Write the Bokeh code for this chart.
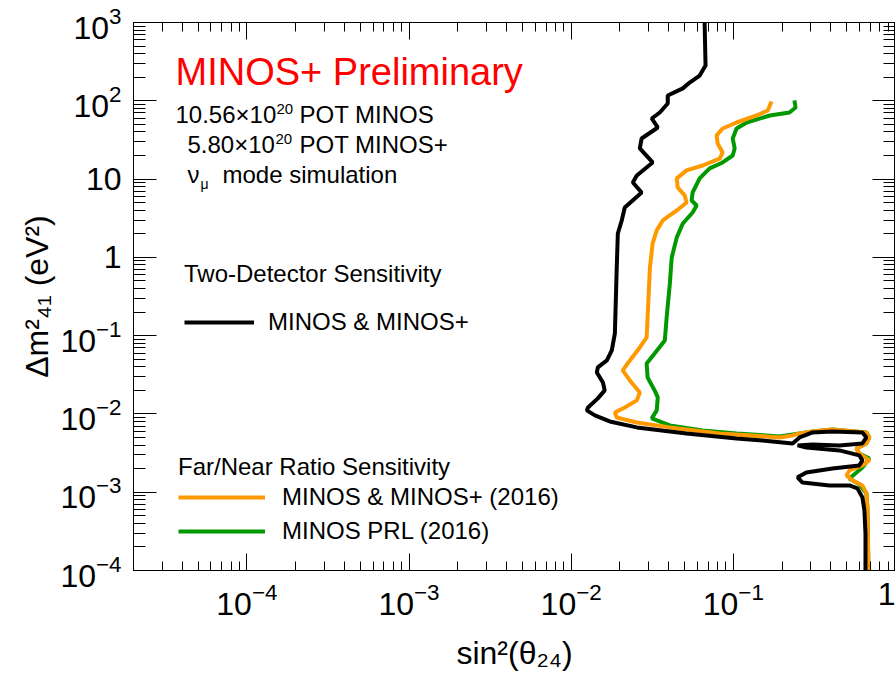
from bokeh.plotting import figure
from bokeh.models import (Range1d, FixedTicker, LogAxis, Label, Legend, LegendItem)
from bokeh.embed import file_html
from bokeh.resources import INLINE

# ---- data ----
x_ticks = [1e-4, 1e-3, 1e-2, 1e-1, 1.0]
y_ticks = [1e-4, 1e-3, 1e-2, 1e-1, 1.0, 10.0, 100.0, 1000.0]

black_x = [0.0665, 0.0674, 0.0620, 0.0538, 0.0488, 0.0394, 0.0394, 0.0352, 0.0314, 0.0342,
           0.0272, 0.0265, 0.0318, 0.0254, 0.0240, 0.0272, 0.0214, 0.0205, 0.0194, 0.0191,
           0.0186, 0.0178, 0.0166, 0.0146, 0.0144, 0.0157, 0.0161, 0.0146, 0.0127, 0.0125,
           0.0140, 0.0173, 0.0254, 0.0515, 0.1047, 0.151, 0.232, 0.256, 0.308, 0.408,
           0.625, 0.662, 0.625, 0.451, 0.308, 0.249, 0.282, 0.451, 0.598, 0.625,
           0.598, 0.408, 0.282, 0.249, 0.267, 0.392, 0.520, 0.582, 0.625, 0.643,
           0.653, 0.653]
black_y = [1000, 282, 210, 171, 144, 117, 92.4, 70.9, 59.4, 45.6,
           33.0, 24.6, 16.3, 11.1, 9.05, 6.74, 4.34, 2.96, 2.02, 0.743,
           0.107, 0.0647, 0.0482, 0.0393, 0.0339, 0.0252, 0.0200, 0.0158, 0.0121, 0.0111,
           0.00957, 0.00802, 0.00673, 0.00564, 0.00487, 0.00459, 0.00420, 0.00501, 0.00581, 0.00597,
           0.00581, 0.00501, 0.00420, 0.00396, 0.00407, 0.00396, 0.00373, 0.00342, 0.00295, 0.00255,
           0.00220, 0.00201, 0.00179, 0.00155, 0.00133, 0.00122, 0.00122, 0.00112, 0.000859, 0.00059,
           0.000298, 0.0001]

orange_x = [0.172, 0.163, 0.139, 0.1047, 0.0859, 0.0789, 0.0800, 0.0859, 0.0824, 0.0647,
            0.0515, 0.0448, 0.0454, 0.0501, 0.0515, 0.0448, 0.0367, 0.0337, 0.0318, 0.0306,
            0.0296, 0.0292, 0.0265, 0.0230, 0.0208, 0.0230, 0.0265, 0.0254, 0.0214, 0.0186,
            0.0191, 0.0254, 0.0406, 0.0824, 0.193, 0.232, 0.256, 0.308, 0.408, 0.662,
            0.690, 0.662, 0.574, 0.598, 0.662, 0.690, 0.625, 0.520, 0.499, 0.542,
            0.625, 0.662, 0.671, 0.681, 0.681]
orange_y = [98.0, 75.2, 64.9, 52.8, 44.3, 36.1, 28.5, 21.9, 18.3, 14.9,
            12.9, 10.2, 7.81, 6.18, 5.03, 3.97, 2.96, 2.21, 1.51, 0.743,
            0.171, 0.0948, 0.0707, 0.0482, 0.0360, 0.0268, 0.0188, 0.0149, 0.0121, 0.0104,
            0.00902, 0.00778, 0.00673, 0.00564, 0.00501, 0.00531, 0.00564, 0.00597, 0.00634, 0.00581,
            0.00501, 0.00420, 0.00362, 0.00313, 0.00270, 0.00255, 0.00220, 0.00190, 0.00164, 0.00142,
            0.00122, 0.000966, 0.000640, 0.000110, 0.0001]

green_x = [0.238, 0.242, 0.222, 0.168, 0.121, 0.1047, 0.0991, 0.1019, 0.0991, 0.0859,
           0.0714, 0.0620, 0.0561, 0.0553, 0.0594, 0.0561, 0.0488, 0.0448, 0.0417, 0.0406,
           0.0388, 0.0378, 0.0327, 0.0292, 0.0296, 0.0327, 0.0342, 0.0337, 0.0314, 0.0406,
           0.0647, 0.1047, 0.193, 0.256, 0.308, 0.408, 0.662, 0.690, 0.662, 0.574,
           0.598, 0.690, 0.625, 0.520, 0.598, 0.662, 0.671, 0.681]
green_y = [101, 82.1, 70.9, 64.9, 52.8, 44.3, 33.0, 24.6, 20.0, 16.3,
           13.7, 10.2, 6.74, 5.33, 4.60, 3.74, 2.71, 1.80, 0.998, 0.464,
           0.171, 0.0868, 0.0593, 0.0442, 0.0292, 0.0200, 0.0163, 0.0111, 0.00877, 0.00713,
           0.00615, 0.00564, 0.00516, 0.00564, 0.00597, 0.00634, 0.00581, 0.00501, 0.00420, 0.00362,
           0.00313, 0.00270, 0.00207, 0.00150, 0.00126, 0.000966, 0.000640, 0.0001]

FONT = "Liberation Sans"
BLACK = "#000000"
ORANGE = "#ff9900"
GREEN = "#009900"

def minor_list(decades, lo, hi):
    out = []
    for d in decades:
        for k in range(2, 10):
            v = k * d
            if lo <= v <= hi:
                out.append(v)
    return out

x_minor = minor_list([1e-5, 1e-4, 1e-3, 1e-2, 1e-1], 2e-5, 1.0)
y_minor = minor_list([1e-4, 1e-3, 1e-2, 1e-1, 1.0, 10.0, 100.0], 1e-4, 1e3)

p = figure(width=895, height=678, x_axis_type="log", y_axis_type="log",
           x_range=Range1d(2e-5, 1.0), y_range=Range1d(1e-4, 1e3),
           output_backend="svg", toolbar_location=None,
           min_border_left=133, min_border_right=0, min_border_top=22, min_border_bottom=108)
p.background_fill_color = "white"
p.border_fill_color = "white"
p.outline_line_color = "black"
p.outline_line_width = 1
p.xgrid.visible = False
p.ygrid.visible = False

def style_axis(ax, ticks, minor, tin, tmin, labels=True):
    ax.ticker = FixedTicker(ticks=ticks, minor_ticks=minor)
    ax.axis_line_color = "black"
    ax.axis_line_width = 1
    ax.major_tick_in = tin
    ax.major_tick_out = 0
    ax.minor_tick_in = tmin
    ax.minor_tick_out = 0
    ax.major_tick_line_color = "black"
    ax.minor_tick_line_color = "black"
    ax.major_tick_line_width = 1
    ax.minor_tick_line_width = 1
    if labels:
        ax.major_label_text_font = FONT
        ax.major_label_text_font_size = "32px"
        ax.major_label_text_color = "black"
        ax.major_label_standoff = 12
    else:
        ax.major_label_text_font_size = "1px"
        ax.major_label_text_alpha = 0
        ax.major_label_standoff = 0

xa = p.xaxis[0]
ya = p.yaxis[0]
style_axis(xa, x_ticks, x_minor, 17, 9)
style_axis(ya, y_ticks, y_minor, 23, 12)
xa.major_label_overrides = {1.0: "1"}
ya.major_label_overrides = {1.0: "1", 10.0: "10"}

xa.axis_label = "sin²(θ₂₄)"
xa.axis_label_text_font = FONT
xa.axis_label_text_font_size = "32px"
xa.axis_label_text_font_style = "normal"
xa.axis_label_text_color = "black"
xa.axis_label_standoff = 17
ya.axis_label = "Δm²₄₁ (eV²)"
ya.axis_label_text_font = FONT
ya.axis_label_text_font_size = "32px"
ya.axis_label_text_font_style = "normal"
ya.axis_label_text_color = "black"
ya.axis_label_standoff = 2

top = LogAxis()
style_axis(top, x_ticks, x_minor, 17, 9, labels=False)
p.add_layout(top, "above")
right = LogAxis()
style_axis(right, y_ticks, y_minor, 23, 12, labels=False)
p.add_layout(right, "right")

# ---- curves ----
r_green = p.line(green_x, green_y, line_color=GREEN, line_width=4)
r_orange = p.line(orange_x, orange_y, line_color=ORANGE, line_width=4)
r_black = p.line(black_x, black_y, line_color=BLACK, line_width=4)

# ---- legends ----
def make_legend(title, items, loc, gw, standoff, lstand):
    lg = Legend(items=items, location=loc, title=title,
                title_text_font=FONT, title_text_font_size="24px",
                title_text_font_style="normal", title_text_color="black",
                title_standoff=standoff,
                label_text_font=FONT, label_text_font_size="24px",
                label_text_color="black",
                glyph_width=gw, glyph_height=28, label_height=28,
                label_standoff=lstand, spacing=6, padding=0, margin=0,
                border_line_alpha=0, background_fill_alpha=0)
    return lg

lg1 = make_legend("Two-Detector Sensitivity",
                  [LegendItem(label="MINOS & MINOS+", renderers=[r_black])],
                  (51, 234), 70, 20, 14)
lg2 = make_legend("Far/Near Ratio Sensitivity",
                  [LegendItem(label="MINOS & MINOS+ (2016)", renderers=[r_orange]),
                   LegendItem(label="MINOS PRL (2016)", renderers=[r_green])],
                  (45, 25), 87, 2, 17)
p.add_layout(lg1, "center")
p.add_layout(lg2, "center")

# ---- text annotations (screen px relative to the frame; y = baseline) ----
def lab(x, base, text, size, color="black"):
    p.add_layout(Label(x=x, y=base + 0.38 * size, x_units="screen", y_units="screen",
                       text=text, text_font=FONT, text_font_size=f"{size}px",
                       text_color=color, text_baseline="alphabetic", text_align="left"))

lab(42, 484, "MINOS+ Preliminary", 38, "#ff0000")
# 10.56x10^20 POT MINOS
lab(42, 447, "10.56×10", 24)
lab(143, 456, "20", 15)
lab(166, 447, "POT MINOS", 24)
# 5.80x10^20 POT MINOS+
lab(54, 417, "5.80×10", 24)
lab(142, 426, "20", 15)
lab(166, 417, "POT MINOS+", 24)
# nu_mu mode simulation
lab(54, 387, "ν", 24)
lab(67, 381, "μ", 14)
lab(89, 387, "mode simulation", 24)

open("out.html", "w").write(file_html(p, INLINE))
